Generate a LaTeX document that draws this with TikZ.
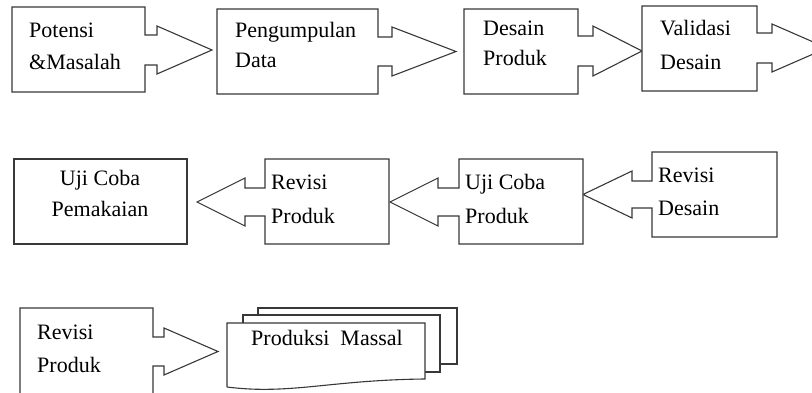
\documentclass[tikz,border=0pt]{standalone}
\usepackage{fontspec}
\setmainfont{Liberation Serif}

% Block with an arrow attached to one side:
% #1 attached side x, #2 far side x, #3 top, #4 bottom,
% #5 shaft top, #6 shaft bottom, #7 shaft end x, #8 head overhang, #9 tip x
\newcommand\arrowblock[9]{%
  \draw[shapeline] (#2,#3) -- (#1,#3) -- (#1,#5) -- (#7,#5) -- (#7,#5-#8)
    -- (#9,{(#5+#6)/2}) -- (#7,#6+#8) -- (#7,#6) -- (#1,#6) -- (#1,#4)
    -- (#2,#4) -- cycle;}

\begin{document}
\begin{tikzpicture}[x=1pt,y=-1pt,
  shapeline/.style={draw=black!78, line width=1.1pt, fill=white, line join=miter},
  lbl/.style={inner sep=0pt, anchor=base west, align=left,
    font=\fontsize{22}{31}\selectfont}]
\useasboundingbox (0,0) rectangle (812,393);
\clip (0,0) rectangle (812,393);

% ---- first row: left to right ----
\arrowblock{145}{12}{7}{92}{35}{65}{157}{9}{212}
\arrowblock{378}{217}{9}{94}{37}{66}{392}{10}{456}
\arrowblock{578}{464}{9}{94}{36}{66}{593}{10}{642}
\arrowblock{757}{642}{6}{91}{33}{63}{772}{9}{827}

% labels are placed by the baseline of their last line
\node[lbl, font=\fontsize{22}{32}\selectfont] (potensi) at (29,70) {Potensi\\\&Masalah};
\node[lbl, font=\fontsize{22}{30}\selectfont] (data) at (235,68) {Pengumpulan\\Data};
\node[lbl, font=\fontsize{22}{30}\selectfont] (desain) at (483,66) {Desain\\Produk};
\node[lbl, font=\fontsize{22}{34}\selectfont] (validasi) at (660,70) {Validasi\\Desain};

% ---- second row: right to left ----
\arrowblock{652}{777}{152}{237}{181}{208}{632}{10}{583}
\arrowblock{459}{583}{159}{244}{188}{216}{438}{10}{390}
\arrowblock{265}{389}{159}{244}{188}{216}{245}{10}{197}
\draw[shapeline] (14,159) rectangle (187,244);

\node[lbl, font=\fontsize{22}{33}\selectfont] (revdesain) at (658,215) {Revisi\\Desain};
\node[lbl, font=\fontsize{22}{33}\selectfont] (ujiproduk) at (465,223) {Uji Coba\\Produk};
\node[lbl, font=\fontsize{22}{33}\selectfont] (revproduk) at (271,223) {Revisi\\Produk};
\node[lbl, anchor=base, align=center] (pemakaian) at (100,216) {Uji Coba\\Pemakaian};

% ---- third row ----
\arrowblock{153}{20}{308}{400}{337}{366}{164}{9}{218}
\node[lbl, font=\fontsize{22}{33}\selectfont] (revproduk2) at (37,372) {Revisi\\Produk};

% stacked documents
\draw[shapeline] (258,308) rectangle (457,364);
\draw[shapeline] (243,315) rectangle (440,372);
\draw[shapeline] (227,387) -- (227,323) -- (425,323) -- (425,379)
  .. controls (330,380) and (290,395) .. (227,387);
\node[lbl, anchor=base] (massal) at (327,345) {Produksi\ \ Massal};
\end{tikzpicture}
\end{document}
